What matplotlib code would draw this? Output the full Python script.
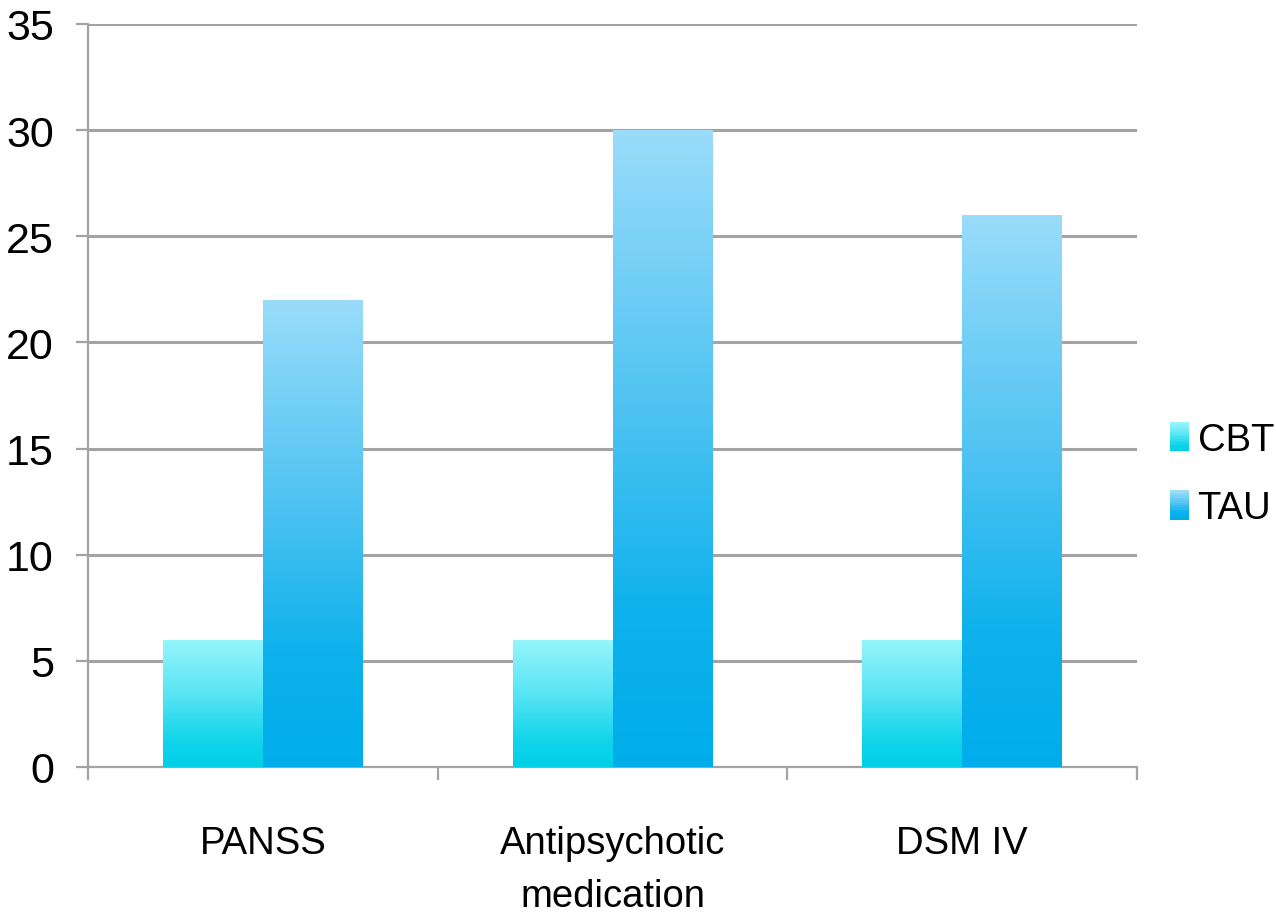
import numpy as np
import matplotlib
matplotlib.use("Agg")
import matplotlib.pyplot as plt
from matplotlib.colors import LinearSegmentedColormap
from matplotlib.legend_handler import HandlerBase
from matplotlib.patches import Rectangle
from matplotlib.ticker import FixedLocator, NullFormatter

categories = ["PANSS", "Antipsychotic\nmedication", "DSM IV"]
series_names = ["CBT", "TAU"]
cbt_values = [6, 6, 6]
tau_values = [22, 30, 26]
y_ticks = [0, 5, 10, 15, 20, 25, 30, 35]

plt.rcParams["font.family"] = ["Liberation Sans", "DejaVu Sans"]

# top -> bottom gradient stops for each series
cbt_stops = [(0.0, "#96f5fc"), (0.45, "#55e4f4"), (0.8, "#10d4ea"), (1.0, "#00d0e6")]
tau_stops = [(0.0, "#9adcfa"), (0.45, "#4cc2f2"), (0.75, "#0fb2ec"), (1.0, "#00adea")]


def make_cmap(name, stops):
    return LinearSegmentedColormap.from_list(name, stops)


cmaps = [make_cmap("cbt", cbt_stops), make_cmap("tau", tau_stops)]

fig = plt.figure(figsize=(12.76, 9.2), dpi=100)
ax = fig.add_axes([88 / 1276, 152 / 920, 1049 / 1276, 743 / 920])

x = np.arange(len(categories))
width = 0.2857
grad = np.linspace(0, 1, 256).reshape(-1, 1)

for values, offset, cmap in [(cbt_values, -width / 2, cmaps[0]), (tau_values, width / 2, cmaps[1])]:
    bars = ax.bar(x + offset, values, width, color="none", edgecolor="none", zorder=3)
    for b in bars:
        x0, y0 = b.get_x(), b.get_y()
        w, h = b.get_width(), b.get_height()
        im = ax.imshow(grad, cmap=cmap, aspect="auto", origin="upper",
                       extent=(x0, x0 + w, y0, y0 + h), zorder=3, interpolation="bilinear")
        im.set_clip_path(b)

ax.set_xlim(-0.5, len(categories) - 0.5)
ax.set_ylim(0, 35)

grid_color = "#a3a3a3"
ax.set_yticks(y_ticks)
ax.yaxis.grid(True, color=grid_color, linewidth=2.2, zorder=0)
ax.set_axisbelow(True)

for side in ["top", "right"]:
    ax.spines[side].set_visible(False)
for side in ["left", "bottom"]:
    ax.spines[side].set_color(grid_color)
    ax.spines[side].set_linewidth(1.6)
    ax.spines[side].set_zorder(1)

ax.tick_params(axis="y", length=8.6, width=1.6, color=grid_color, direction="out",
               labelsize=31, pad=16)

ax.xaxis.set_major_locator(FixedLocator(np.arange(-0.5, len(categories), 1.0)))
ax.xaxis.set_major_formatter(NullFormatter())
ax.xaxis.set_minor_locator(FixedLocator(x))
ax.set_xticklabels(categories, minor=True)
ax.tick_params(axis="x", which="major", length=9.5, width=1.6, color=grid_color, direction="out")
ax.tick_params(axis="x", which="minor", length=0, labelsize=27.5, pad=42)
for lbl in ax.get_xticklabels(minor=True):
    lbl.set_linespacing(1.6)


class GradientHandler(HandlerBase):
    def __init__(self, cmap, **kw):
        super().__init__(**kw)
        self.cmap = cmap

    def create_artists(self, legend, orig_handle, xdescent, ydescent, width, height, fontsize, trans):
        n = 12
        artists = []
        for i in range(n):
            frac = i / (n - 1)
            r = Rectangle((-xdescent, -ydescent + height * (1 - (i + 1) / n)), width, height / n,
                          facecolor=self.cmap(frac), edgecolor="none", transform=trans)
            artists.append(r)
        return artists


handles = [Rectangle((0, 0), 1, 1), Rectangle((0, 0), 1, 1)]
leg = fig.legend(handles, series_names, loc="center left", bbox_to_anchor=(1170 / 1276, 1 - 475 / 920),
                 frameon=False, fontsize=27.5, handlelength=0.5, handleheight=0.8, handletextpad=0.22,
                 labelspacing=0.85, borderpad=0, borderaxespad=0,
                 handler_map={handles[0]: GradientHandler(cmaps[0]), handles[1]: GradientHandler(cmaps[1])})

fig.savefig("out.png", dpi=100, facecolor="white")
